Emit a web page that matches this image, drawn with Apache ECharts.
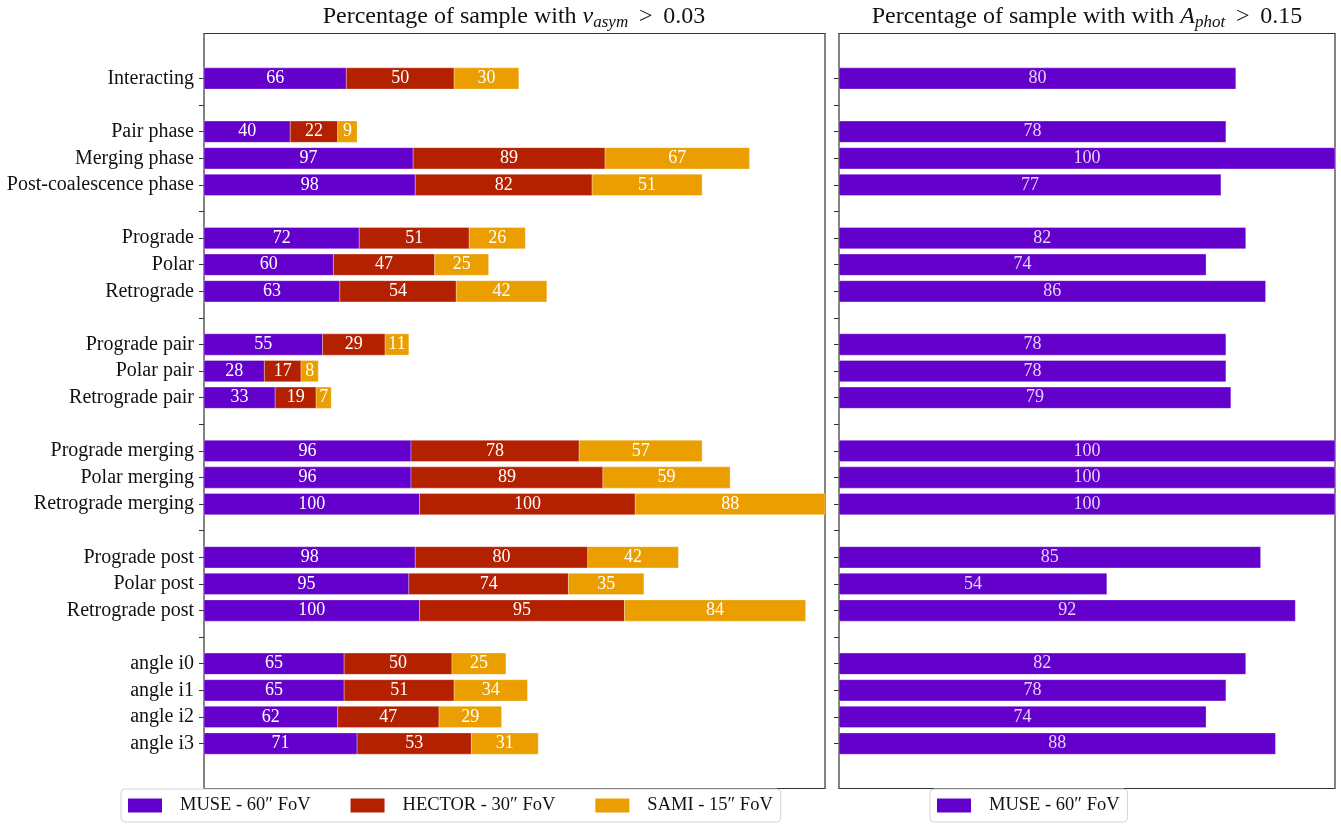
<!DOCTYPE html>
<html><head><meta charset="utf-8">
<script src="https://cdn.jsdelivr.net/npm/echarts@6/dist/echarts.min.js"></script>
<style>html,body{margin:0;padding:0;background:#fff}#c{width:1341px;height:824px}</style>
</head><body><div id="c"></div>
<script>
const categories = ['Interacting','', 'Pair phase','Merging phase','Post-coalescence phase','',
  'Prograde','Polar','Retrograde','', 'Prograde pair','Polar pair','Retrograde pair','',
  'Prograde merging','Polar merging','Retrograde merging','', 'Prograde post','Polar post','Retrograde post','',
  'angle i0','angle i1','angle i2','angle i3'];
const muse   = [66,null,40,97,98,null,72,60,63,null,55,28,33,null,96,96,100,null,98,95,100,null,65,65,62,71];
const hector = [50,null,22,89,82,null,51,47,54,null,29,17,19,null,78,89,100,null,80,74,95,null,50,51,47,53];
const sami   = [30,null,9,67,51,null,26,25,42,null,11,8,7,null,57,59,88,null,42,35,84,null,25,34,29,31];
const musePhot = [80,null,78,100,77,null,82,74,86,null,78,78,79,null,100,100,100,null,85,54,92,null,82,78,74,88];
const seriesNames = ['MUSE - 60\u2033 FoV','HECTOR - 30\u2033 FoV','SAMI - 15\u2033 FoV'];
const colors = ['#6400cc','#b32100','#eb9e00'];

const FONT = '"Liberation Serif", "DejaVu Serif", serif';
const rowIdx = categories.map((c,i)=>i);

function segments(stack, k){
  const out = [];
  rowIdx.forEach(i=>{
    const v = stack[k][i];
    if (v == null) return;
    let s = 0;
    for (let j=0;j<k;j++) s += stack[j][i];
    out.push([s, s+v, i, v]);
  });
  return out;
}
function makeRender(textColor){
  return function(params, api){
    const s = api.value(0), e = api.value(1), y = api.value(2);
    const p0 = api.coord([s, y]);
    const p1 = api.coord([e, y]);
    const h = api.size([0, 0.8])[1];
    return {
      type: 'rect',
      shape: {x: p0[0], y: p0[1]-h/2, width: p1[0]-p0[0], height: h},
      style: {fill: api.visual('color'), stroke: 'rgba(255,255,255,0.3)', lineWidth: 1},
      textContent: {style: {text: String(api.value(3)), fill: textColor, fontSize: 18, fontFamily: FONT}},
      textConfig: {position: 'inside'}
    };
  };
}
const leftStack = [muse, hector, sami];
const ticks = rowIdx.slice();

function yAxis(gridIndex, showLabels){
  return {
    type: 'value', gridIndex, inverse: true, min: -1.69, max: 26.69,
    splitLine: {show: false},
    axisLine: {show: false},
    axisTick: {show: true, customValues: ticks, length: 5, lineStyle: {color: '#333', width: 1}},
    axisLabel: {show: showLabels, customValues: ticks, margin: 10, color: '#111', fontSize: 20, fontFamily: FONT,
      formatter: v => categories[Math.round(v)] || ''}
  };
}

const series = [];
for (let k=0;k<3;k++){
  series.push({
    type: 'custom', name: seriesNames[k], xAxisIndex: 0, yAxisIndex: 0,
    itemStyle: {color: colors[k]},
    renderItem: makeRender('#ffffff'),
    encode: {x: [0,1], y: 2},
    data: segments(leftStack, k)
  });
}
series.push({
  type: 'custom', name: seriesNames[0], xAxisIndex: 1, yAxisIndex: 1,
  itemStyle: {color: colors[0]},
  renderItem: makeRender('rgba(255,255,255,0.82)'),
  encode: {x: [0,1], y: 2},
  data: segments([musePhot], 0)
});

const legendCommon = {
  orient: 'horizontal', icon: 'rect', itemWidth: 34, itemHeight: 14, itemGap: 40,
  padding: [7, 8, 7, 7], borderColor: '#d4d4d4', borderWidth: 1, borderRadius: 4,
  backgroundColor: '#fff', selectedMode: false,
  textStyle: {fontFamily: FONT, fontSize: 18.5, color: '#111', padding: [0,0,0,13]}
};
const titleStyle = {fontFamily: FONT, fontSize: 24, fontWeight: 'normal', color: '#111', lineHeight: 28,
  rich: {i: {fontFamily: FONT, fontSize: 24, fontStyle: 'italic', color: '#111', lineHeight: 28},
         sub: {fontFamily: FONT, fontSize: 17, fontStyle: 'italic', color: '#111', lineHeight: 15, verticalAlign: 'bottom'}}};

const chart = echarts.init(document.getElementById('c'), null, {renderer: 'canvas'});
chart.setOption({
  animation: false,
  backgroundColor: '#fff',
  title: [
    {text: 'Percentage of sample with {i|v}{sub|asym} \u2009>\u2009 0.03', left: 514, textAlign: 'center', top: 3, padding: 0,
     textStyle: titleStyle},
    {text: 'Percentage of sample with with {i|A}{sub|phot} \u2009>\u2009 0.15', left: 1087, textAlign: 'center', top: 3, padding: 0,
     textStyle: titleStyle}
  ],
  grid: [
    {left: 204, top: 33.5, width: 621, height: 755, show: true, borderColor: '#333', borderWidth: 1.2, backgroundColor: 'transparent'},
    {left: 839, top: 33.5, width: 496, height: 755, show: true, borderColor: '#333', borderWidth: 1.2, backgroundColor: 'transparent'}
  ],
  xAxis: [
    {type: 'value', gridIndex: 0, min: 0, max: 288, show: false, splitLine: {show: false}},
    {type: 'value', gridIndex: 1, min: 0, max: 100, show: false, splitLine: {show: false}}
  ],
  yAxis: [yAxis(0, true), yAxis(1, false)],
  legend: [
    Object.assign({}, legendCommon, {left: 121, top: 789, data: seriesNames}),
    Object.assign({}, legendCommon, {left: 930, top: 789, data: [seriesNames[0]]})
  ],
  series
});
</script></body></html>
